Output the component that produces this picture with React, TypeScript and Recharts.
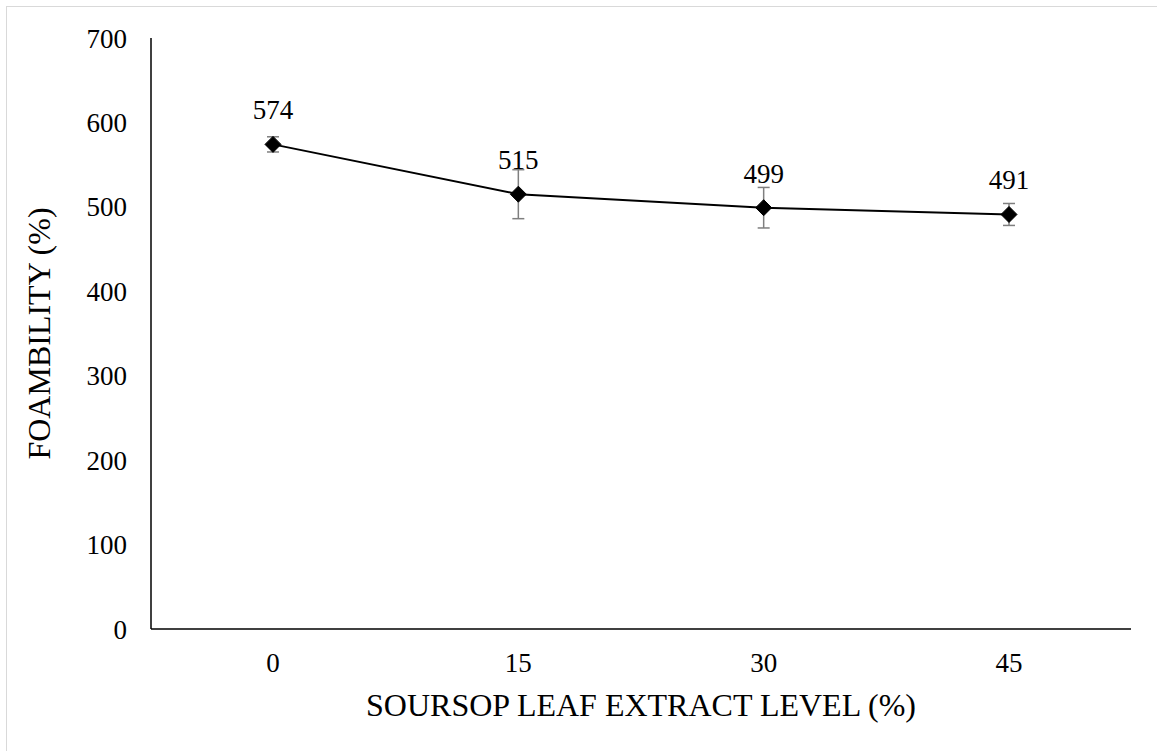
import React from 'react';
import { LineChart, Line, XAxis, YAxis, ErrorBar, LabelList, Label } from 'recharts';

const levels = ['0', '15', '30', '45'];
const foamability = [574, 515, 499, 491];
const foamError = [9, 29, 24, 13];
const yTicks = [0, 100, 200, 300, 400, 500, 600, 700];

const chartData = levels.map((level, i) => ({
  level,
  foam: foamability[i],
  err: foamError[i],
}));

const FONT = 'Liberation Serif';

const Diamond = (props: any) => {
  const { cx, cy } = props;
  if (cx == null || cy == null) return null;
  const r = 8;
  return (
    <polygon
      points={`${cx},${cy - r} ${cx + r},${cy} ${cx},${cy + r} ${cx - r},${cy}`}
      fill="#000"
      stroke="#000"
    />
  );
};

// rotated y title, centred on the plot area like Excel does
const YTitle = (props: any) => {
  const { viewBox } = props;
  const x = 43;
  const y = viewBox.y + viewBox.height / 2;
  return (
    <text
      x={x}
      y={y}
      transform={`rotate(-90, ${x}, ${y})`}
      textAnchor="middle"
      fontFamily={FONT}
      fontSize={32}
      fill="#000"
    >
      FOAMBILITY (%)
    </text>
  );
};

const App: React.FC = () => {
  return (
    <div
      style={{
        position: 'absolute',
        left: 6,
        top: 6,
        width: 1151,
        height: 745,
        borderLeft: '1px solid #d9d9d9',
        borderTop: '1px solid #d9d9d9',
        background: '#fff',
      }}
    >
      <LineChart
        width={1150}
        height={744}
        data={chartData}
        margin={{ top: 31, right: 26, left: 0, bottom: 22 }}
      >
        <XAxis
          dataKey="level"
          padding={{ left: 122, right: 122 }}
          height={100}
          tickLine={false}
          tickSize={0}
          tickMargin={24}
          axisLine={{ stroke: '#000', strokeWidth: 1.5 }}
          tick={{ fill: '#000', fontSize: 27, fontFamily: FONT }}
        >
          <Label
            value="SOURSOP LEAF EXTRACT LEVEL (%)"
            position="insideBottom"
            offset={13}
            fontFamily={FONT}
            fontSize={32}
            fill="#000"
          />
        </XAxis>
        <YAxis
          width={144}
          domain={[0, 700]}
          ticks={yTicks}
          interval={0}
          tickLine={false}
          tickSize={0}
          tickMargin={24}
          axisLine={{ stroke: '#000', strokeWidth: 1.5 }}
          tick={{ fill: '#000', fontSize: 27, fontFamily: FONT }}
        >
          <Label content={<YTitle />} />
        </YAxis>
        <Line
          dataKey="foam"
          type="linear"
          stroke="#000"
          strokeWidth={2}
          dot={<Diamond />}
          activeDot={false}
          isAnimationActive={false}
        >
          <ErrorBar dataKey="err" width={6} stroke="#7f7f7f" strokeWidth={1.5} direction="y" />
          <LabelList
            dataKey="foam"
            position="top"
            offset={25}
            fontFamily={FONT}
            fontSize={27}
            fill="#000"
          />
        </Line>
      </LineChart>
    </div>
  );
};

export default App;
